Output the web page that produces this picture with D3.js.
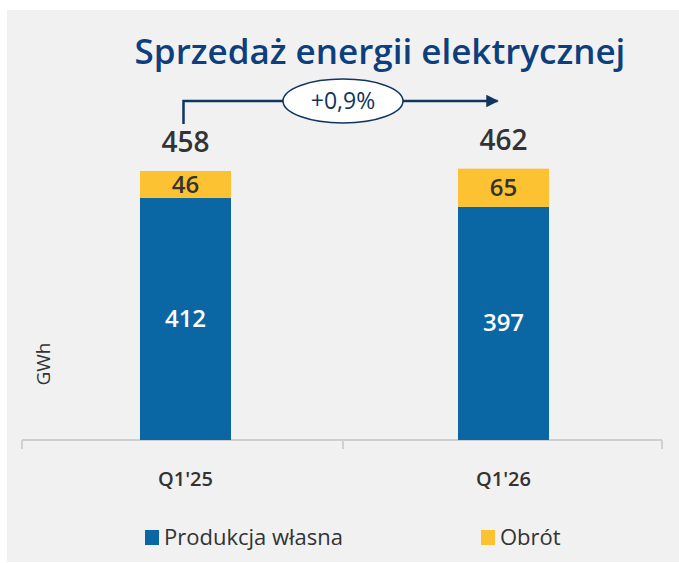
<!DOCTYPE html>
<html>
  <head>
    <meta charset="utf-8">
    <style>
      body { margin: 0; padding: 0; background: #fff; }
      svg { display: block; font-family: 'Open Sans', sans-serif; }
    </style>
  </head>
  <body>
    <div id="chart"></div>
    <script src="https://d3js.org/d3.v7.min.js"></script>
    <script>
      var categories = ["Q1'25", "Q1'26"];
      var wlasna = [412, 397];
      var obrot = [46, 65];
      var totals = [458, 462];
      var seriesNames = ["Produkcja własna", "Obrót"];
      var changeLabel = "+0,9%";

      var W = 679, H = 563;
      var svg = d3.select("#chart").append("svg")
        .attr("width", W).attr("height", H);

      svg.append("rect")
        .attr("x", 7).attr("y", 10)
        .attr("width", W - 7).attr("height", H - 11)
        .attr("fill", "#f1f1f1");

      var x = d3.scaleBand().domain(categories).range([26.5, 662.5]);
      var y = d3.scaleLinear().domain([0, 458]).range([440, 171]);
      var color = d3.scaleOrdinal().domain(seriesNames).range(["#0b67a4", "#fdc231"]);
      var barW = 91;
      var mid = d => x(d) + x.bandwidth() / 2;

      var data = categories.map((c, i) => ({cat: c, wlasna: wlasna[i], obrot: obrot[i], total: totals[i]}));
      var stacked = d3.stack().keys(["wlasna", "obrot"])(data);
      var keyName = {wlasna: seriesNames[0], obrot: seriesNames[1]};

      // axis line + ticks
      var axis = svg.append("g").attr("transform", "translate(0,440)");
      axis.append("line").attr("x1", 22).attr("x2", 662)
        .attr("stroke", "#d0d0d0").attr("stroke-width", 2);
      axis.selectAll(".tk")
        .data([22, 343, 662])
        .enter().append("line")
          .attr("x1", d => d).attr("x2", d => d).attr("y1", 0).attr("y2", 9)
          .attr("stroke", "#d0d0d0").attr("stroke-width", 2);

      // bars
      svg.append("g").selectAll("g")
        .data(stacked)
        .enter().append("g")
          .attr("fill", d => color(keyName[d.key]))
        .selectAll("rect")
        .data(d => d)
        .enter().append("rect")
          .attr("x", d => mid(d.data.cat) - barW / 2)
          .attr("y", d => y(d[1]))
          .attr("height", d => y(d[0]) - y(d[1]))
          .attr("width", barW);

      // segment labels
      stacked.forEach(function (s) {
        svg.append("g").selectAll("text")
          .data(s)
          .enter().append("text")
            .attr("x", d => mid(d.data.cat))
            .attr("y", d => (y(d[0]) + y(d[1])) / 2 + 8)
            .attr("text-anchor", "middle")
            .attr("font-size", 24).attr("font-weight", 600)
            .attr("fill", s.key === "wlasna" ? "#fff" : "#333")
            .text(d => d.data[s.key]);
      });

      // totals
      svg.append("g").selectAll("text")
        .data(data)
        .enter().append("text")
          .attr("x", d => mid(d.cat))
          .attr("y", d => y(d.total) - 19)
          .attr("text-anchor", "middle")
          .attr("font-size", 28).attr("font-weight", 600)
          .attr("fill", "#333")
          .text(d => d.total);

      // category labels
      svg.append("g").selectAll("text")
        .data(categories)
        .enter().append("text")
          .attr("x", d => mid(d))
          .attr("y", 486)
          .attr("text-anchor", "middle")
          .attr("font-size", 20).attr("font-weight", 600)
          .attr("fill", "#333")
          .text(d => d);

      // y label
      svg.append("text")
        .attr("transform", "translate(50,364) rotate(-90)")
        .attr("text-anchor", "middle")
        .attr("font-size", 19)
        .attr("fill", "#333")
        .text("GWh");

      // title
      svg.append("text")
        .attr("x", 380).attr("y", 64)
        .attr("text-anchor", "middle")
        .attr("font-size", 35).attr("font-weight", 600)
        .attr("fill", "#0d3f7e")
        .text("Sprzedaż energii elektrycznej");

      // change arrow
      var ax0 = mid(categories[0]) - 2;
      var ax1 = mid(categories[1]) - 6;
      var ay = 101;
      svg.append("defs").append("marker")
        .attr("id", "arrow")
        .attr("viewBox", "0 0 10 10")
        .attr("refX", 9).attr("refY", 5)
        .attr("markerWidth", 5).attr("markerHeight", 5)
        .attr("orient", "auto")
        .append("path").attr("d", "M0,0L10,5L0,10Z").attr("fill", "#10355f");
      svg.append("path")
        .attr("d", "M" + ax0 + ",124V" + ay + "H" + ax1)
        .attr("fill", "none")
        .attr("stroke", "#10355f")
        .attr("stroke-width", 2.5)
        .attr("marker-end", "url(#arrow)");
      var cx = 343;
      svg.append("ellipse")
        .attr("cx", cx).attr("cy", ay)
        .attr("rx", 60).attr("ry", 22)
        .attr("fill", "#fff")
        .attr("stroke", "#10355f")
        .attr("stroke-width", 1.5);
      svg.append("text")
        .attr("x", cx).attr("y", ay + 8)
        .attr("text-anchor", "middle")
        .attr("font-size", 23)
        .attr("fill", "#10355f")
        .text(changeLabel);

      // legend
      var legendX = [145, 481];
      var legend = svg.append("g").selectAll("g")
        .data(seriesNames)
        .enter().append("g")
          .attr("transform", (d, i) => "translate(" + legendX[i] + ",530)");
      legend.append("rect")
        .attr("width", 14).attr("height", 15)
        .attr("fill", d => color(d));
      legend.append("text")
        .attr("x", 19).attr("y", 15)
        .attr("font-size", 22)
        .attr("fill", "#333")
        .text(d => d);
    </script>
  </body>
</html>
